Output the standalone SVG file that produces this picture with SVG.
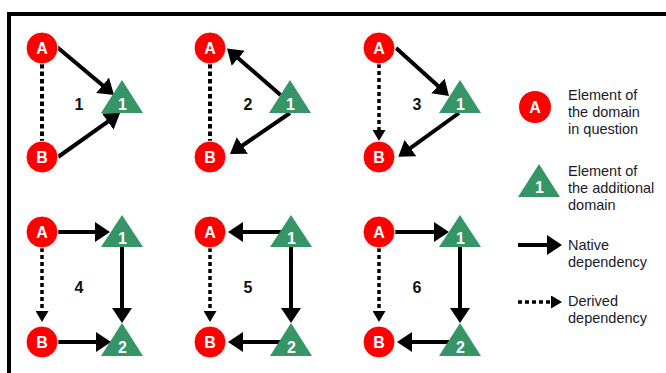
<svg xmlns="http://www.w3.org/2000/svg" width="666" height="373" viewBox="0 0 666 373">
<defs>
<style>
.frame{fill:none;stroke:#000;stroke-width:4}
.nat{fill:none;stroke:#000;stroke-width:4;marker-end:url(#head)}
.der{fill:none;stroke:#000;stroke-width:3.5;stroke-dasharray:4 3;marker-end:url(#headS)}
.dot{fill:none;stroke:#000;stroke-width:4;stroke-dasharray:4.5 3}
.circ{fill:#ff0000;stroke:#fff;stroke-width:1}
.tri{fill:#359566}
.nl{font-family:"Liberation Sans",Arial,sans-serif;font-weight:bold;fill:#fff;text-anchor:middle}
.pn{font-family:"Liberation Sans",Arial,sans-serif;font-weight:bold;font-size:16px;fill:#111;text-anchor:middle}
.lg{font-family:"Liberation Sans",Arial,sans-serif;font-size:14.5px;fill:#1a1a2a}
</style>
<marker id="head" markerUnits="userSpaceOnUse" markerWidth="15" markerHeight="20" refX="7" refY="10" orient="auto">
<path d="M0,0 L15,10 L0,20 Z" fill="#000"/>
</marker>
<marker id="headS" markerUnits="userSpaceOnUse" markerWidth="11" markerHeight="13" refX="5" refY="6.5" orient="auto">
<path d="M0,0 L11,6.5 L0,13 Z" fill="#000"/>
</marker>
</defs>
<rect width="666" height="373" fill="#fff"/>
<path class="frame" d="M9,376 L9,14 L669,14"/>

<g id="connectors">
<!-- panel 1 -->
<line class="dot" x1="42" y1="64" x2="42" y2="141"/>
<line class="nat" x1="57" y1="47" x2="107.9" y2="89.8"/>
<line class="nat" x1="58" y1="157" x2="113.5" y2="117.6"/>
<!-- panel 2 -->
<line class="dot" x1="210" y1="64" x2="210" y2="141"/>
<line class="nat" x1="280.5" y1="95" x2="233" y2="53.7"/>
<line class="nat" x1="290" y1="113" x2="236.6" y2="149.5"/>
<!-- panel 3 -->
<line class="der" x1="379" y1="64" x2="379" y2="135"/>
<line class="nat" x1="396" y1="48" x2="443.1" y2="90.6"/>
<line class="nat" x1="459" y1="113" x2="404.8" y2="152.1"/>
<!-- panel 4 -->
<line class="der" x1="42" y1="248" x2="42" y2="316"/>
<line class="nat" x1="58" y1="232" x2="102" y2="232"/>
<line class="nat" x1="122" y1="247" x2="122" y2="315"/>
<line class="nat" x1="58" y1="342" x2="103" y2="342"/>
<!-- panel 5 -->
<line class="der" x1="210" y1="248" x2="210" y2="316"/>
<line class="nat" x1="281" y1="232" x2="236" y2="232"/>
<line class="nat" x1="291" y1="247" x2="291" y2="315"/>
<line class="nat" x1="281" y1="342" x2="236" y2="342"/>
<!-- panel 6 -->
<line class="der" x1="379" y1="248" x2="379" y2="316"/>
<line class="nat" x1="395" y1="232" x2="441" y2="232"/>
<line class="nat" x1="460" y1="247" x2="460" y2="315"/>
<line class="nat" x1="449" y1="342" x2="405" y2="342"/>
<!-- legend -->
<line class="nat" x1="518" y1="245" x2="554" y2="245"/>
<line class="der" x1="518" y1="302" x2="556" y2="302"/>
</g>

<!-- panel 1 -->
<g id="p1-A"><circle class="circ" cx="42" cy="48" r="16"/><text class="nl" x="42" y="53.8" font-size="16">A</text></g>
<g id="p1-B"><circle class="circ" cx="42" cy="157" r="16"/><text class="nl" x="42" y="162.8" font-size="16">B</text></g>
<g id="p1-1"><polygon class="tri" points="122,80 143,113 101,113"/><text class="nl" x="122.5" y="109.5" font-size="16">1</text></g>
<text class="pn" x="79" y="110">1</text>
<!-- panel 2 -->
<g id="p2-A"><circle class="circ" cx="210" cy="48" r="16"/><text class="nl" x="210" y="53.8" font-size="16">A</text></g>
<g id="p2-B"><circle class="circ" cx="210" cy="157" r="16"/><text class="nl" x="210" y="162.8" font-size="16">B</text></g>
<g id="p2-1"><polygon class="tri" points="290,80 311,113 269,113"/><text class="nl" x="290.5" y="109.5" font-size="16">1</text></g>
<text class="pn" x="248" y="110">2</text>
<!-- panel 3 -->
<g id="p3-A"><circle class="circ" cx="379" cy="48" r="16"/><text class="nl" x="379" y="53.8" font-size="16">A</text></g>
<g id="p3-B"><circle class="circ" cx="379" cy="157" r="16"/><text class="nl" x="379" y="162.8" font-size="16">B</text></g>
<g id="p3-1"><polygon class="tri" points="460,80 481,113 439,113"/><text class="nl" x="460.5" y="109.5" font-size="16">1</text></g>
<text class="pn" x="417" y="110">3</text>
<!-- panel 4 -->
<g id="p4-A"><circle class="circ" cx="42" cy="232" r="16"/><text class="nl" x="42" y="237.8" font-size="16">A</text></g>
<g id="p4-B"><circle class="circ" cx="42" cy="342" r="16"/><text class="nl" x="42" y="347.8" font-size="16">B</text></g>
<g id="p4-1"><polygon class="tri" points="122,215 143,247 101,247"/><text class="nl" x="122.5" y="243.5" font-size="16">1</text></g>
<g id="p4-2"><polygon class="tri" points="122,323 143,356 101,356"/><text class="nl" x="122.5" y="352.5" font-size="16">2</text></g>
<text class="pn" x="79" y="293">4</text>
<!-- panel 5 -->
<g id="p5-A"><circle class="circ" cx="210" cy="232" r="16"/><text class="nl" x="210" y="237.8" font-size="16">A</text></g>
<g id="p5-B"><circle class="circ" cx="210" cy="342" r="16"/><text class="nl" x="210" y="347.8" font-size="16">B</text></g>
<g id="p5-1"><polygon class="tri" points="291,215 312,247 270,247"/><text class="nl" x="291.5" y="243.5" font-size="16">1</text></g>
<g id="p5-2"><polygon class="tri" points="291,323 312,356 270,356"/><text class="nl" x="291.5" y="352.5" font-size="16">2</text></g>
<text class="pn" x="248" y="293">5</text>
<!-- panel 6 -->
<g id="p6-A"><circle class="circ" cx="379" cy="232" r="16"/><text class="nl" x="379" y="237.8" font-size="16">A</text></g>
<g id="p6-B"><circle class="circ" cx="379" cy="342" r="16"/><text class="nl" x="379" y="347.8" font-size="16">B</text></g>
<g id="p6-1"><polygon class="tri" points="460,215 481,247 439,247"/><text class="nl" x="460.5" y="243.5" font-size="16">1</text></g>
<g id="p6-2"><polygon class="tri" points="460,323 481,356 439,356"/><text class="nl" x="460.5" y="352.5" font-size="16">2</text></g>
<text class="pn" x="417" y="293">6</text>

<!-- legend -->
<g id="legend-A"><circle class="circ" cx="535" cy="107" r="16.5"/><text class="nl" x="535" y="112.8" font-size="16">A</text></g>
<g id="legend-1"><polygon class="tri" points="539,164 560,197 518,197"/><text class="nl" x="539.5" y="193" font-size="16">1</text></g>
<g id="legend-text">
<text class="lg" x="568" y="99.5">Element of</text>
<text class="lg" x="568" y="116.5">the domain</text>
<text class="lg" x="568" y="133.5">in question</text>
<text class="lg" x="568" y="176">Element of</text>
<text class="lg" x="568" y="193">the additional</text>
<text class="lg" x="568" y="210">domain</text>
<text class="lg" x="568" y="249.5">Native</text>
<text class="lg" x="568" y="266.5">dependency</text>
<text class="lg" x="568" y="306">Derived</text>
<text class="lg" x="568" y="323">dependency</text>
</g>
</svg>
